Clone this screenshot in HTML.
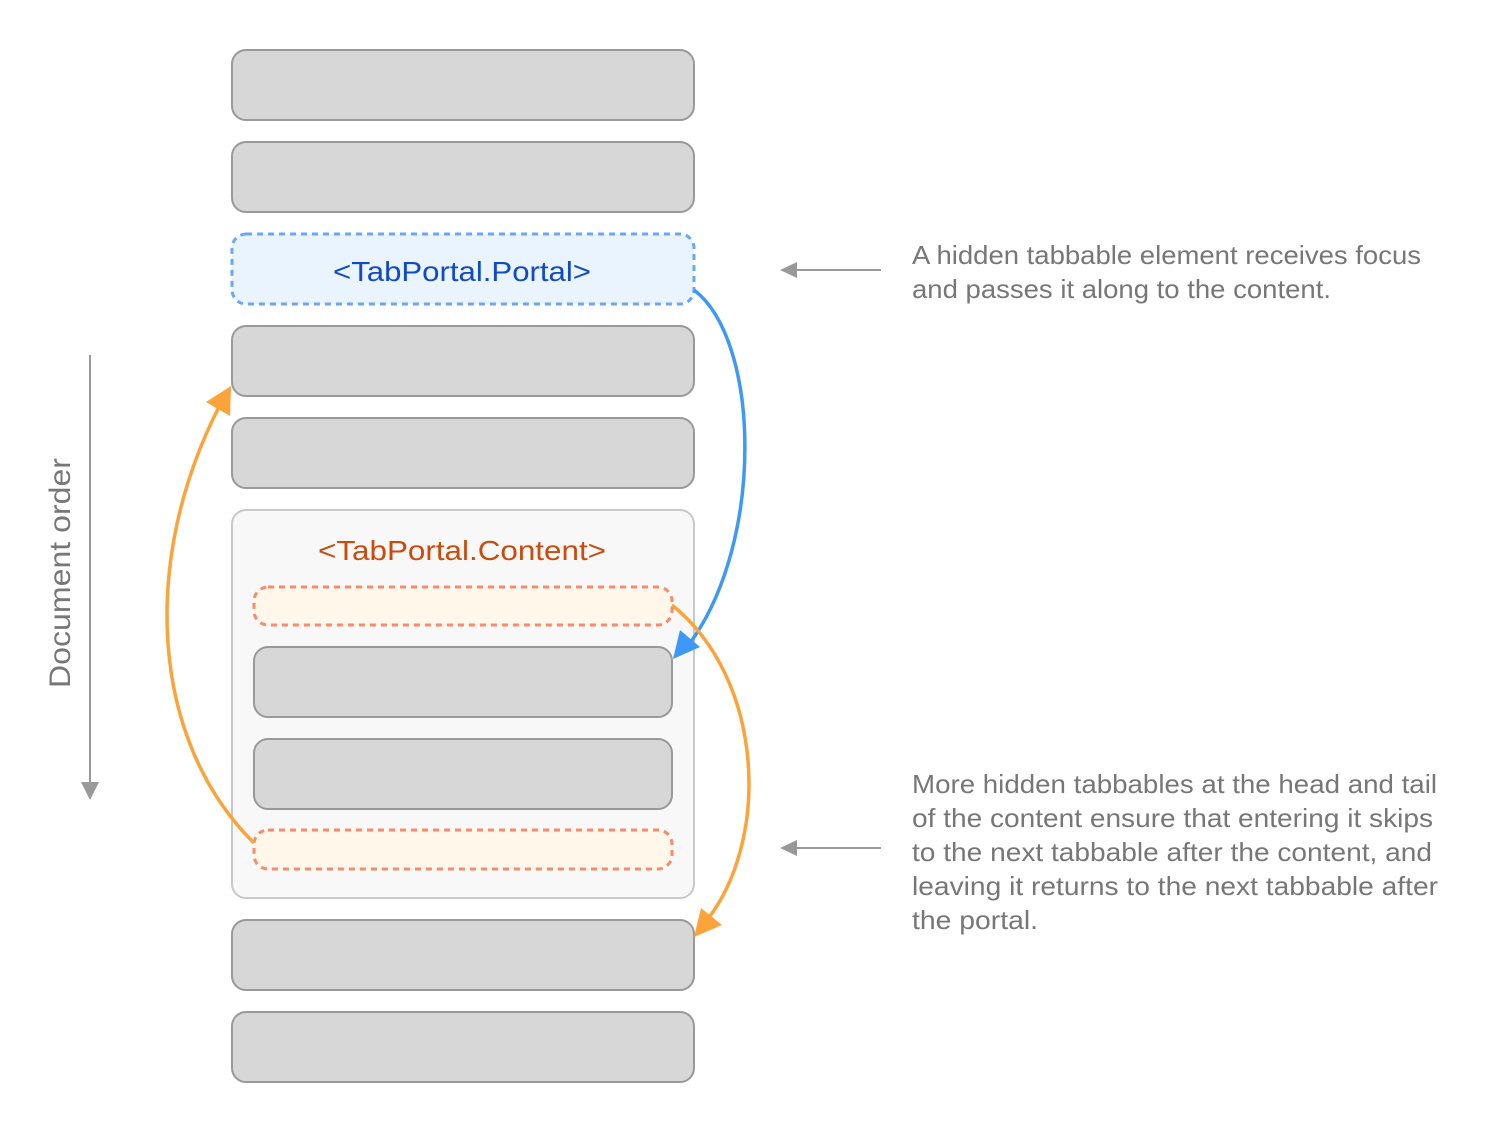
<!DOCTYPE html>
<html><head><style>html,body{margin:0;padding:0;background:#fff}svg{display:block}</style></head>
<body>
<svg width="1494" height="1122" viewBox="0 0 1494 1122" xmlns="http://www.w3.org/2000/svg" font-family="'Liberation Sans', sans-serif">
<g fill="#d7d7d7" stroke="#999" stroke-width="2">
<rect x="232" y="50" width="462" height="70" rx="14"/>
<rect x="232" y="142" width="462" height="70" rx="14"/>
<rect x="232" y="326" width="462" height="70" rx="14"/>
<rect x="232" y="418" width="462" height="70" rx="14"/>
</g>
<rect x="232" y="234" width="462" height="70" rx="14" fill="#eaf4fe" stroke="#6aa6fb" stroke-width="3" stroke-dasharray="6,5"/>
<text x="462" y="281" font-size="28" fill="#1149cc" text-anchor="middle" textLength="258" lengthAdjust="spacingAndGlyphs">&lt;TabPortal.Portal&gt;</text>
<rect x="232" y="510" width="462" height="388" rx="14" fill="#f8f8f8" stroke="#c8c8c8" stroke-width="2"/>
<text x="462" y="560" font-size="28" fill="#cc4a0c" text-anchor="middle" textLength="288" lengthAdjust="spacingAndGlyphs">&lt;TabPortal.Content&gt;</text>
<g fill="#fef7ea" stroke="#fa8a6a" stroke-width="3" stroke-dasharray="6,5">
<rect x="254" y="587" width="418" height="38" rx="14"/>
<rect x="254" y="830" width="418" height="39" rx="14"/>
</g>
<g fill="#d7d7d7" stroke="#999" stroke-width="2">
<rect x="254" y="647" width="418" height="70" rx="14"/>
<rect x="254" y="739" width="418" height="70" rx="14"/>
<rect x="232" y="920" width="462" height="70" rx="14"/>
<rect x="232" y="1012" width="462" height="70" rx="14"/>
</g>
<!-- blue arrow -->
<path d="M694,290 C760,340 765,540 690,643" fill="none" stroke="#3d98f7" stroke-width="3.5"/>
<polygon points="673,659 680,630 700,647" fill="#3d98f7"/>
<!-- orange arrows -->
<path d="M672,605 C765,680 770,840 707,920" fill="none" stroke="#fca33a" stroke-width="3.5"/>
<polygon points="694,937 701,908 722,925" fill="#fca33a"/>
<path d="M254,843 C150,740 140,560 220,405" fill="none" stroke="#fca33a" stroke-width="3.5"/>
<polygon points="231,386 206,402 230,416" fill="#fca33a"/>
<!-- document order -->
<line x1="90" y1="355" x2="90" y2="785" stroke="#999" stroke-width="2"/>
<polygon points="81,782 99,782 90,800" fill="#999"/>
<text transform="translate(70,573) rotate(-90)" font-size="30" fill="#777" text-anchor="middle" textLength="230" lengthAdjust="spacingAndGlyphs">Document order</text>
<!-- gray arrows -->
<line x1="795" y1="270" x2="881" y2="270" stroke="#999" stroke-width="2"/>
<polygon points="780,270 797,262 797,278" fill="#999"/>
<line x1="795" y1="848" x2="881" y2="848" stroke="#999" stroke-width="2"/>
<polygon points="780,848 797,840 797,856" fill="#999"/>
<g font-size="26" fill="#777" lengthAdjust="spacingAndGlyphs">
<text x="912" y="264" textLength="509" lengthAdjust="spacingAndGlyphs">A hidden tabbable element receives focus</text>
<text x="912" y="298" textLength="419" lengthAdjust="spacingAndGlyphs">and passes it along to the content.</text>
<text x="912" y="793" textLength="525" lengthAdjust="spacingAndGlyphs">More hidden tabbables at the head and tail</text>
<text x="912" y="827" textLength="521" lengthAdjust="spacingAndGlyphs">of the content ensure that entering it skips</text>
<text x="912" y="861" textLength="520" lengthAdjust="spacingAndGlyphs">to the next tabbable after the content, and</text>
<text x="912" y="895" textLength="526" lengthAdjust="spacingAndGlyphs">leaving it returns to the next tabbable after</text>
<text x="912" y="929" textLength="126" lengthAdjust="spacingAndGlyphs">the portal.</text>
</g>
</svg>
</body></html>
